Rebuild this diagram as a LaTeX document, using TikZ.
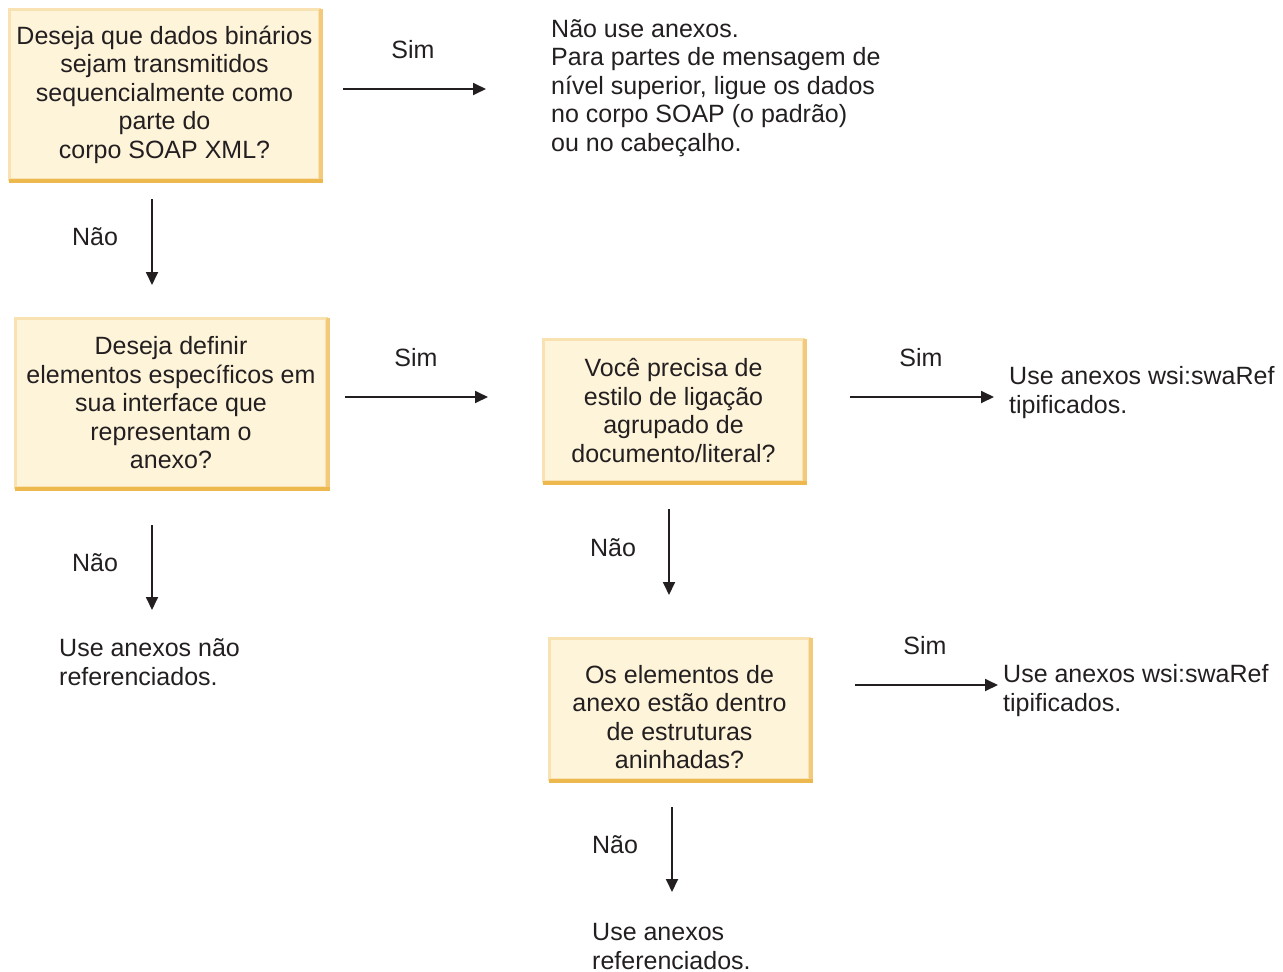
\documentclass[tikz,border=0pt]{standalone}
\usepackage{fontspec}
\setmainfont{Liberation Sans}
\usetikzlibrary{arrows.meta}
\definecolor{boxfill}{HTML}{FEF4DA}
\definecolor{rimlight}{HTML}{F8E2B2}
\definecolor{rimdark}{HTML}{EDB94F}
\definecolor{rimmid}{HTML}{F3C97A}
\definecolor{txt}{HTML}{231F20}
\tikzset{
  qbox/.style={fill=boxfill, draw=rimlight, line width=3pt, align=center, inner sep=0pt,
    font=\fontsize{25}{28.5}\selectfont, text=txt},
  lbl/.style={font=\fontsize{25}{28.5}\selectfont, text=txt, inner sep=0pt},
  res/.style={font=\fontsize{25}{28.5}\selectfont, text=txt, inner sep=0pt, align=left, anchor=base west},
  arr/.style={line width=1.8pt, draw=txt, -{Triangle[length=13pt,width=12pt]}},
  rimB/.style={draw=rimdark, line width=4pt},
  rimR/.style={draw=rimmid, line width=4pt}
}
\begin{document}
\begin{tikzpicture}[x=1pt,y=-1pt]
\useasboundingbox (0,0) rectangle (1283,972);
% boxes
\node[qbox, minimum width=310pt, minimum height=170pt] (b1) at (164.5,94.5)
  {Deseja que dados binários\\sejam transmitidos\\sequencialmente como\\parte do\\corpo SOAP XML?};
\node[qbox, minimum width=311pt, minimum height=169pt] (b2) at (171,403)
  {Deseja definir\\elementos específicos em\\sua interface que\\representam o\\anexo?};
\node[qbox, minimum width=260pt, minimum height=142pt] (b3) at (673.5,410.5)
  {Você precisa de\\estilo de ligação\\agrupado de\\documento/literal?};
\node[qbox, minimum width=260pt, minimum height=141pt,
  label={[lbl, align=center, yshift=-8pt]center:Os elementos de\\anexo estão dentro\\de estruturas\\aninhadas?}] (b4) at (679.5,709) {};
\foreach \b in {b1,b2,b3,b4}{
  \draw[rimR] ([yshift=-1pt]\b.north east) -- ([yshift=1pt]\b.south east);
  \draw[rimB] ([xshift=1pt]\b.south west) -- ([xshift=1.5pt]\b.south east);
}
% connector endpoints
\coordinate (a1s) at (343,89);  \coordinate (a1e) at (486,89);
\coordinate (a2s) at (152,199); \coordinate (a2e) at (152,285);
\coordinate (a3s) at (345,397); \coordinate (a3e) at (488,397);
\coordinate (a4s) at (152,525); \coordinate (a4e) at (152,610);
\coordinate (a5s) at (850,397); \coordinate (a5e) at (994,397);
\coordinate (a6s) at (669,509); \coordinate (a6e) at (669,595);
\coordinate (a7s) at (855,685); \coordinate (a7e) at (998,685);
\coordinate (a8s) at (672,807); \coordinate (a8e) at (672,892);
\draw[arr] (a1s) -- (a1e);
\draw[arr] (a2s) -- (a2e);
\draw[arr] (a3s) -- (a3e);
\draw[arr] (a4s) -- (a4e);
\draw[arr] (a5s) -- (a5e);
\draw[arr] (a6s) -- (a6e);
\draw[arr] (a7s) -- (a7e);
\draw[arr] (a8s) -- (a8e);
% labels
\node[lbl] (l1) at (413,50) {Sim};
\node[lbl] (l2) at (95,237) {Não};
\node[lbl] (l3) at (416,358) {Sim};
\node[lbl] (l4) at (95,563) {Não};
\node[lbl] (l5) at (921,358) {Sim};
\node[lbl] (l6) at (613,548) {Não};
\node[lbl] (l7) at (925,646) {Sim};
\node[lbl] (l8) at (615,845) {Não};
% results
\node[res] (r1) at (551,151) {Não use anexos.\\Para partes de mensagem de\\nível superior, ligue os dados\\no corpo SOAP (o padrão)\\ou no cabeçalho.};
\node[res] (r2) at (59,685) {Use anexos não\\referenciados.};
\node[res] (r3) at (1009,413) {Use anexos wsi:swaRef\\tipificados.};
\node[res] (r4) at (1003,711) {Use anexos wsi:swaRef\\tipificados.};
\node[res] (r5) at (592,969) {Use anexos\\referenciados.};
\end{tikzpicture}
\end{document}
